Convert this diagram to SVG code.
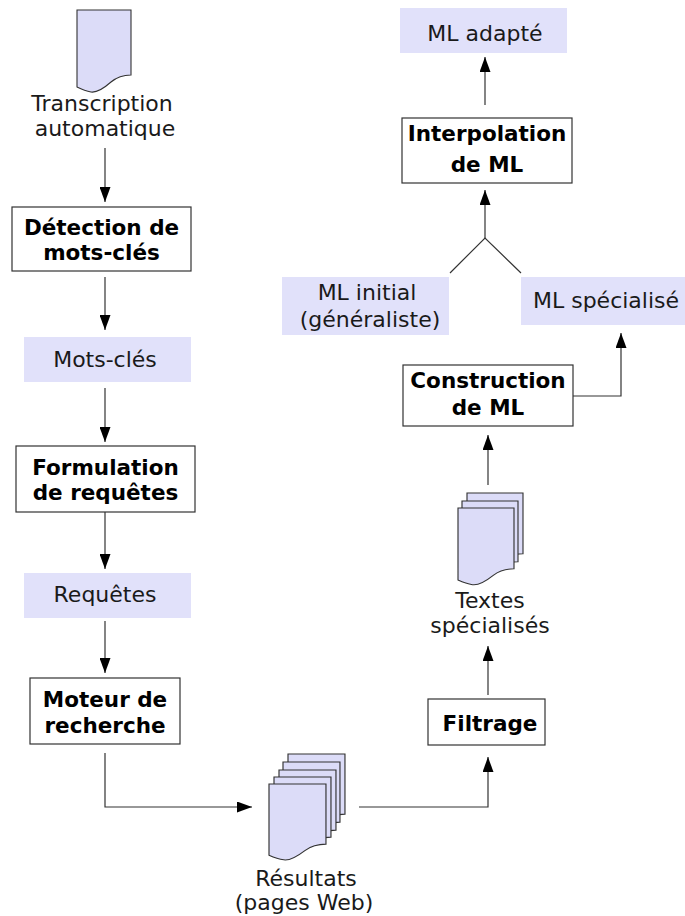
<svg xmlns="http://www.w3.org/2000/svg" xmlns:xlink="http://www.w3.org/1999/xlink" width="685" height="916" viewBox="0 0 685 916">
<style>
.box{fill:#fff;stroke:#333;stroke-width:1.2}
.data{fill:#e1e1fa;stroke:none}
.pg{fill:#dcdcf8;stroke:#333;stroke-width:1.1}
.b{font-family:"DejaVu Sans",sans-serif;font-weight:bold;font-size:21.5px;fill:#000;text-anchor:middle}
.r{font-family:"DejaVu Sans",sans-serif;font-size:22px;fill:#1a1a1a;text-anchor:middle}
.c{fill:none;stroke:#333;stroke-width:1.2}
</style>
<defs>
<marker id="ah" markerUnits="userSpaceOnUse" markerWidth="15" markerHeight="11" refX="15" refY="5.5" orient="auto">
<path d="M0,0 L15,5.5 L0,11 Z" fill="#000"/>
</marker>
<path id="page" d="M0,0 H54 V65 C46,65 40,67 34,72 C26,79 20,83 14,82 C8,81 4,79 0,77 Z"/>
</defs>

<g id="transcription">
<use xlink:href="#page" class="pg" transform="translate(77,10)"/>
<text class="r" x="102" y="111">Transcription</text>
<text class="r" x="105" y="136">automatique</text>
</g>

<g id="detection">
<rect class="box" x="12" y="207" width="179" height="64"/>
<text class="b" x="101.5" y="235">Détection de</text>
<text class="b" x="101.5" y="260">mots-clés</text>
</g>

<g id="motscles">
<rect class="data" x="24" y="337" width="167" height="45"/>
<text class="r" x="105" y="367">Mots-clés</text>
</g>

<g id="formulation">
<rect class="box" x="16" y="446" width="179" height="66"/>
<text class="b" x="105.5" y="475">Formulation</text>
<text class="b" x="105.5" y="500">de requêtes</text>
</g>

<g id="requetes">
<rect class="data" x="24" y="573" width="167" height="45"/>
<text class="r" x="105" y="602">Requêtes</text>
</g>

<g id="moteur">
<rect class="box" x="30" y="678" width="150" height="66"/>
<text class="b" x="105" y="707">Moteur de</text>
<text class="b" x="105" y="733">recherche</text>
</g>

<g id="resultats">
<use xlink:href="#page" class="pg" transform="translate(288,754) scale(1.055,0.925)"/>
<use xlink:href="#page" class="pg" transform="translate(283,762) scale(1.055,0.925)"/>
<use xlink:href="#page" class="pg" transform="translate(279,770) scale(1.055,0.925)"/>
<use xlink:href="#page" class="pg" transform="translate(274,777) scale(1.055,0.925)"/>
<use xlink:href="#page" class="pg" transform="translate(269,784) scale(1.055,0.925)"/>
<text class="r" x="306" y="886">Résultats</text>
<text class="r" x="304" y="910">(pages Web)</text>
</g>

<g id="filtrage">
<rect class="box" x="428" y="699" width="117" height="46"/>
<text class="b" x="490" y="731">Filtrage</text>
</g>

<g id="textes">
<use xlink:href="#page" class="pg" transform="translate(467,493) scale(1.037,0.935)"/>
<use xlink:href="#page" class="pg" transform="translate(462,501) scale(1.037,0.935)"/>
<use xlink:href="#page" class="pg" transform="translate(458,508) scale(1.037,0.935)"/>
<text class="r" x="490" y="608">Textes</text>
<text class="r" x="490" y="633">spécialisés</text>
</g>

<g id="construction">
<rect class="box" x="403" y="365" width="170" height="61"/>
<text class="b" x="488" y="388">Construction</text>
<text class="b" x="488" y="415">de ML</text>
</g>

<g id="mlspecialise">
<rect class="data" x="521" y="277" width="164" height="48"/>
<text class="r" x="606" y="308">ML spécialisé</text>
</g>

<g id="mlinitial">
<rect class="data" x="282" y="277" width="167" height="58"/>
<text class="r" x="367" y="300">ML initial</text>
<text class="r" x="370" y="327">(généraliste)</text>
</g>

<g id="interpolation">
<rect class="box" x="402" y="118" width="170" height="65"/>
<text class="b" x="487" y="141">Interpolation</text>
<text class="b" x="487" y="172">de ML</text>
</g>

<g id="mladapte">
<rect class="data" x="400" y="8" width="167" height="45"/>
<text class="r" x="485" y="41">ML adapté</text>
</g>

<g id="connectors">
<path class="c" d="M105,148 V202" marker-end="url(#ah)"/>
<path class="c" d="M105,277 V330" marker-end="url(#ah)"/>
<path class="c" d="M105,388 V442" marker-end="url(#ah)"/>
<path class="c" d="M105,512 V569" marker-end="url(#ah)"/>
<path class="c" d="M105,621 V673" marker-end="url(#ah)"/>
<path class="c" d="M105,753 V807 H252" marker-end="url(#ah)"/>
<path class="c" d="M359,807 H488 V757" marker-end="url(#ah)"/>
<path class="c" d="M488,695 V646" marker-end="url(#ah)"/>
<path class="c" d="M488,485 V435" marker-end="url(#ah)"/>
<path class="c" d="M573,396 H621 V333" marker-end="url(#ah)"/>
<path class="c" d="M450,273 L485,238 L521,273"/>
<path class="c" d="M485,238 V190" marker-end="url(#ah)"/>
<path class="c" d="M485,105 V57" marker-end="url(#ah)"/>
</g>
</svg>
